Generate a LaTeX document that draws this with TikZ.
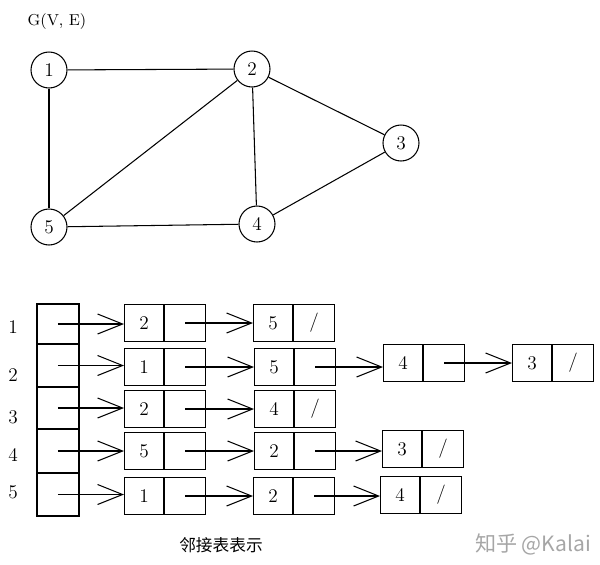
\documentclass[tikz,border=0pt]{standalone}
\usepackage{fontspec}
\newfontfamily\cjk{Noto Sans CJK SC}
\usetikzlibrary{arrows.meta}
\newcommand\listbox[4]{%
  \node[cell,minimum width=0.78cm] (#1a) at (#2) {#3};
  \node[cell,minimum width=0.82cm] (#1b) at (#1a.east) {#4};}
\begin{document}
\begin{tikzpicture}[x=0.02cm,y=-0.02cm,line width=0.6pt,
  vertex/.style={draw,circle,minimum size=0.72cm,inner sep=0pt,font=\fontsize{11}{13}\selectfont},
  cell/.style={draw,minimum height=0.74cm,inner sep=0pt,anchor=west,font=\fontsize{11}{13}\selectfont},
  acell/.style={draw,minimum width=0.84cm,inner sep=0pt},
  ptr/.style={-{Straight Barb[length=5mm,width=4mm]}},
  lbl/.style={font=\fontsize{11}{13}\selectfont}]
\useasboundingbox (0,0) rectangle (600,565);

% graph
\node[font=\fontsize{9}{11}\selectfont] (title) at (57,22) {G(V, E)};
\node[vertex] (v1) at (49,70) {1};
\node[vertex] (v2) at (252,69) {2};
\node[vertex] (v3) at (401,143) {3};
\node[vertex] (v4) at (257,224) {4};
\node[vertex] (v5) at (49,227) {5};
\draw (v1) -- (v2);
\draw (v1) -- (v5);
\draw (v2) -- (v5);
\draw (v2) -- (v4);
\draw (v2) -- (v3);
\draw (v3) -- (v4);
\draw (v5) -- (v4);

% row labels
\node[lbl] (l1) at (13,327) {1};
\node[lbl] (l2) at (13,375) {2};
\node[lbl] (l3) at (13,417) {3};
\node[lbl] (l4) at (13,455) {4};
\node[lbl] (l5) at (13,492) {5};

% head array
\node[acell,minimum height=0.80cm] (arr1) at (58,324) {};
\node[acell,minimum height=0.86cm] (arr2) at (58,365.5) {};
\node[acell,minimum height=0.84cm] (arr3) at (58,408) {};
\node[acell,minimum height=0.88cm] (arr4) at (58,451) {};
\node[acell,minimum height=0.86cm] (arr5) at (58,494.5) {};

% list nodes
\listbox{r1c1}{124,323}{2}{}
\listbox{r1c2}{253,323}{5}{/}
\listbox{r2c1}{124,367}{1}{}
\listbox{r2c2}{254,367}{5}{}
\listbox{r2c3}{383,363}{4}{}
\listbox{r2c4}{512,363}{3}{/}
\listbox{r3c1}{124,409}{2}{}
\listbox{r3c2}{254,409}{4}{/}
\listbox{r4c1}{124,451}{5}{}
\listbox{r4c2}{254,451}{2}{}
\listbox{r4c3}{382,449}{3}{/}
\listbox{r5c1}{124,496}{1}{}
\listbox{r5c2}{253,496}{2}{}
\listbox{r5c3}{380,495}{4}{/}

% pointers
\draw[ptr] (arr1.center) -- (arr1.center -| r1c1a.west);
\draw[ptr] (r1c1b.center) -- (r1c1b.center -| r1c2a.west);
\draw[ptr] (arr2.center) -- (arr2.center -| r2c1a.west);
\draw[ptr] (r2c1b.center) -- (r2c1b.center -| r2c2a.west);
\draw[ptr] (r2c2b.center) -- (r2c2b.center -| r2c3a.west);
\draw[ptr] (r2c3b.center) -- (r2c3b.center -| r2c4a.west);
\draw[ptr] (arr3.center) -- (arr3.center -| r3c1a.west);
\draw[ptr] (r3c1b.center) -- (r3c1b.center -| r3c2a.west);
\draw[ptr] (arr4.center) -- (arr4.center -| r4c1a.west);
\draw[ptr] (r4c1b.center) -- (r4c1b.center -| r4c2a.west);
\draw[ptr] (r4c2b.center) -- (r4c2b.center -| r4c3a.west);
\draw[ptr] (arr5.center) -- (arr5.center -| r5c1a.west);
\draw[ptr] (r5c1b.center) -- (r5c1b.center -| r5c2a.west);
\draw[ptr] (r5c2b.center) -- (r5c2b.center -| r5c3a.west);

% captions
\node[font=\cjk\fontsize{9.5}{11}\selectfont] (cap) at (221,545) {邻接表表示};
\node[font=\cjk\fontsize{12}{14}\selectfont,text=black!35] (wm) at (533,544) {知乎 @Kalai};
\end{tikzpicture}
\end{document}
